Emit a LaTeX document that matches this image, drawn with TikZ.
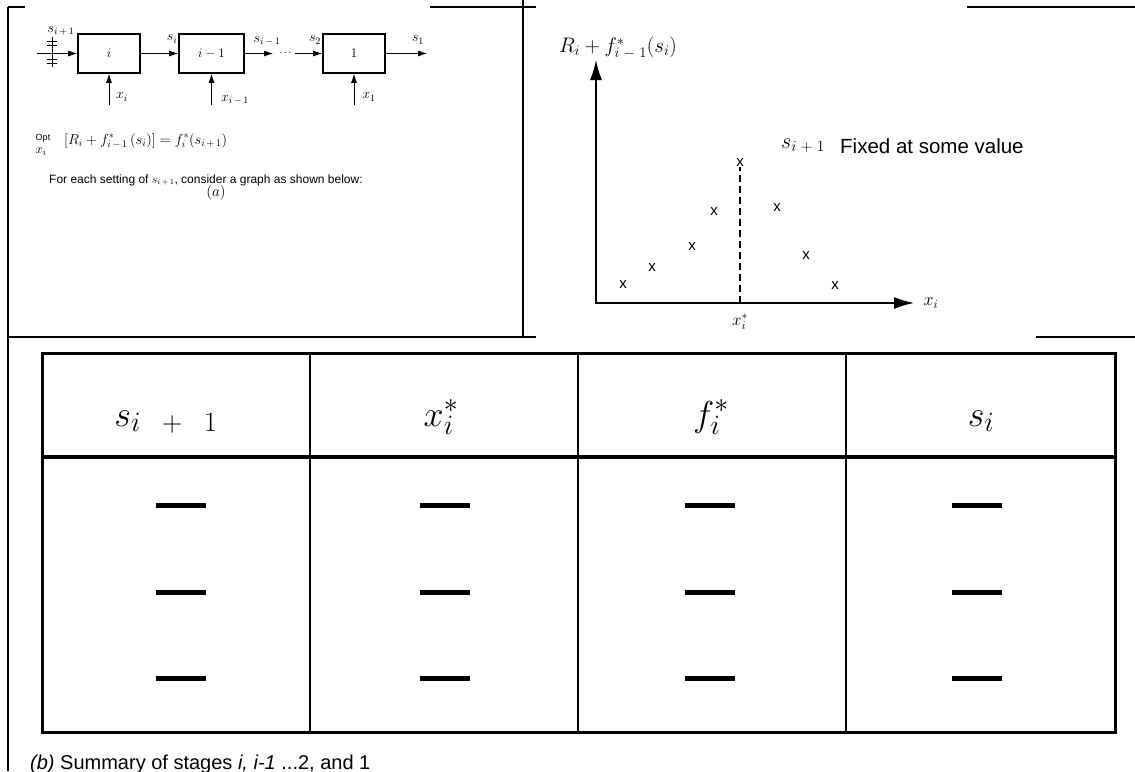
\RequirePackage{fix-cm}
\documentclass[tikz,border=0pt]{standalone}
\usepackage{fontspec}
\newfontfamily\arialfont{Liberation Sans}
\usetikzlibrary{positioning,arrows.meta}
\newcommand{\hsub}[1]{\mbox{\fontsize{28}{30}\selectfont$#1$}}

\begin{document}
\begin{tikzpicture}[x=1pt, y=-1pt, >={Latex[length=9pt,width=6pt]},
    stage/.style={draw, line width=1.6pt, minimum width=62pt, minimum height=39pt,
                  inner sep=0pt, font=\fontsize{13}{15}\selectfont},
    lbl/.style={inner sep=1pt, font=\fontsize{14}{16}\selectfont},
    sans/.style={inner sep=0pt, font=\arialfont\fontsize{12}{14}\selectfont},
    ptmark/.style={inner sep=0pt, font=\arialfont\fontsize{15}{17}\selectfont},
    frame/.style={line width=1.5pt},
    hdr/.style={anchor=base, inner sep=0pt, font=\fontsize{36}{40}\selectfont},
    bar/.style={fill=black, minimum width=50pt, minimum height=5pt, inner sep=0pt}]
  \useasboundingbox (0,0) rectangle (1135,771);

  % panel frames
  \draw[frame] (8,7) -- (25,7);
  \draw[frame] (430,7) -- (536,7);
  \draw[frame] (967,7) -- (1135,7);
  \draw[line width=2pt] (8,7) -- (8,771);
  \draw[frame] (523,0) -- (523,337);
  \draw[frame] (8,337) -- (536,337);
  \draw[frame] (1036,337) -- (1135,337);

  % (a) chain of stages
  \node[stage] (si) at (109,53.5) {$i$};
  \node[stage, minimum width=65pt] (sim) at (211.5,53.5) {$i-1$};
  \node[stage] (sone) at (354,53.5) {$1$};
  \node[inner sep=3pt] (dots) at (285.5,53.5) {$\cdots$};
  \coordinate (sin) at (37,53.5);
  \coordinate (dl) at (273,53.5);
  \coordinate (sout) at (427,53.5);
  \draw[->, thick] (sin) -- (si);
  \draw[thick] (52,37) -- (52,67);
  \foreach \ty in {41,45,59,63}
    \draw[thick] (47,\ty) -- (57,\ty);
  \draw[->, thick] (si) -- (sim);
  \draw[->, thick] (sim) -- (dl);
  \draw[->, thick] (dots) -- (sone);
  \draw[->, thick] (sone) -- (sout);
  \node[lbl] (lsa) at (61,31) {$s_{i\,+\,1}$};
  \node[lbl] (lsb) at (172,39) {$s_i$};
  \node[lbl] (lsc) at (267,41) {$s_{i\,-\,1}$};
  \node[lbl] (lsd) at (315,40) {$s_2$};
  \node[lbl] (lse) at (418,40) {$s_1$};
  \coordinate (xa) at (109,105);
  \coordinate (xb) at (211.5,105);
  \coordinate (xc) at (354,105);
  \draw[->, thick] (xa) -- (si);
  \draw[->, thick] (xb) -- (sim);
  \draw[->, thick] (xc) -- (sone);
  \node[lbl] (lxa) at (122,97) {$x_i$};
  \node[lbl] (lxb) at (235,100) {$x_{i\,-\,1}$};
  \node[lbl] (lxc) at (369,97) {$x_1$};

  \node[sans, font=\arialfont\fontsize{9}{10}\selectfont] (opt) at (43,138) {Opt};
  \node[lbl, font=\fontsize{13}{15}\selectfont] (optx) at (41,152) {$x_i$};
  \node[lbl, anchor=west, font=\fontsize{14.5}{16}\selectfont] (rec) at (63,141)
    {$\bigl[R_i + f^*_{i\,-\,1}\,(s_i)\bigr] = f^*_i(s_{i\,+\,1})$};
  \node[sans, anchor=west] (note) at (49,180)
    {For each setting of $s_{i\,+\,1}$, consider a graph as shown below:};
  \node[lbl, font=\fontsize{15}{17}\selectfont] (capa) at (216,193) {$(a)$};

  % graph for a fixed s_{i+1}
  \coordinate (org) at (596,303);
  \coordinate (ytip) at (596,60);
  \coordinate (xtip) at (914,303);
  \draw[{Latex[length=20pt,width=12pt]}-{Latex[length=20pt,width=12pt]}, line width=1.5pt]
    (ytip) -- (org) -- (xtip);
  \node[lbl, font=\fontsize{21}{23}\selectfont] (ylab) at (618,48)
    {$R_i + f^*_{i\;-\;1}(s_i)$};
  \node[lbl, font=\fontsize{18}{20}\selectfont] (xlab) at (931,303) {$x_i$};
  \node[lbl, font=\fontsize{17}{19}\selectfont] (xstar) at (740,322) {$x_i^*$};
  \foreach \mx/\my [count=\k] in {623/285, 652/268, 692/247, 714/212, 740/163,
                                  777/208, 806/256, 835/286}
    \node[ptmark] (m\k) at (\mx,\my) {x};
  \coordinate (xsb) at (740,303);
  \draw[line width=2pt, dash pattern=on 7pt off 4pt] (xsb) -- (m5.south);
  \node[lbl, font=\fontsize{22}{24}\selectfont] (fixs) at (803,146) {$s_{i\;+\;1}$};
  \node[sans, anchor=west, font=\arialfont\fontsize{20.5}{22}\selectfont] (fixt) at (840,146)
    {Fixed at some value};

  % (b) summary table
  \draw[line width=3pt] (42,353) rectangle (1115,732);
  \draw[line width=4pt] (42,457) -- (1115,457);
  \foreach \cx in {310,578,846}
    \draw[line width=2.5pt] (\cx,353) -- (\cx,732);
  \node[hdr] (ha) at (166,426) {$s_{\hsub{i\;\;+\;\;1}}$};
  \node[hdr] (hb) at (441,426) {$x^{\hsub{*}}_{\hsub{i}}$};
  \node[hdr] (hc) at (711,426) {$f^{\hsub{*}}_{\hsub{i}}$};
  \node[hdr] (hd) at (981,426) {$s_{\hsub{i}}$};
  \foreach \c/\cx in {1/181,2/445,3/710,4/977}
    \foreach \r/\ry in {1/505,2/592,3/678}
      \node[bar] (d\r\c) at (\cx,\ry) {};
  \node[sans, anchor=base west, font=\arialfont\fontsize{20}{22}\selectfont] (capb) at (30,769)
    {\textit{(b)} Summary of stages \textit{i, i-1} ...2, and 1};
\end{tikzpicture}
\end{document}
